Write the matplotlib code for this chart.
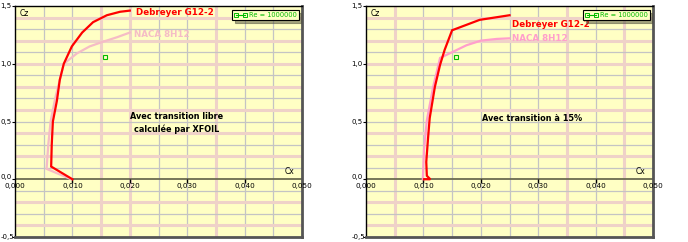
import matplotlib
matplotlib.use("Agg")
import matplotlib.pyplot as plt
from matplotlib.lines import Line2D
import matplotlib.transforms as mtransforms

# ---------------- data ----------------
x_ticks = [0.000, 0.010, 0.020, 0.030, 0.040, 0.050]
x_tick_labels = ["0,000", "0,010", "0,020", "0,030", "0,040", "0,050"]
y_ticks = [-0.5, 0.0, 0.5, 1.0, 1.5]
y_tick_labels = ["-0,5", "0,0", "0,5", "1,0", "1,5"]

# left panel: free transition (XFOIL)
left_deb_cx = [0.0100, 0.0063, 0.0064, 0.0066, 0.0073, 0.0078, 0.0085, 0.0099, 0.0117, 0.0136, 0.0160, 0.0183, 0.0200]
left_deb_cz = [0.00, 0.11, 0.30, 0.50, 0.68, 0.86, 1.00, 1.15, 1.27, 1.36, 1.42, 1.45, 1.46]
left_naca_cx = [0.0098, 0.0055, 0.0058, 0.0062, 0.0070, 0.0078, 0.0085, 0.0108, 0.0130, 0.0153, 0.0178, 0.0200]
left_naca_cz = [0.00, 0.09, 0.30, 0.50, 0.70, 0.86, 1.00, 1.09, 1.15, 1.19, 1.23, 1.27]

# right panel: transition at 15%
right_deb_cx = [0.0101, 0.0112, 0.0106, 0.0105, 0.0108, 0.0111, 0.0120, 0.0129, 0.0137, 0.0150, 0.0198, 0.0250]
right_deb_cz = [0.00, 0.00, 0.03, 0.15, 0.35, 0.53, 0.80, 0.99, 1.12, 1.29, 1.38, 1.42]
right_naca_cx = [0.0099, 0.0101, 0.0106, 0.0117, 0.0129, 0.0150, 0.0175, 0.0200, 0.0228, 0.0250]
right_naca_cz = [0.00, 0.25, 0.51, 0.80, 1.05, 1.10, 1.16, 1.20, 1.215, 1.22]

re_point_cx = [0.0156]
re_point_cz = [1.06]

series_names = ["Debreyer G12-2", "NACA 8H12"]
legend_label = "Re = 1000000"
notes = ["Avec transition libre\ncalculée par XFOIL", "Avec transition à 15%"]

# ---------------- style ----------------
BG = "#ffffc4"
PINK_GRID = "#efd2c8"
GRAY_GRID = "#c4c4c4"
RED = "#ff0000"
GREEN = "#00bb00"

fig = plt.figure(figsize=(6.88, 2.42), dpi=100)
fig.patch.set_facecolor("white")

W, H = 688.0, 242.0
def axes_at(x0, x1, y0, y1):
    return fig.add_axes([x0 / W, 1 - y1 / H, (x1 - x0) / W, (y1 - y0) / H])

axL = axes_at(15, 302, 6, 237)
axR = axes_at(366, 653, 6, 237)

panels = [
    (axL, left_deb_cx, left_deb_cz, left_naca_cx, left_naca_cz, "#f5bcc6",
     [0.015, 0.020, 0.035], notes[0], (0.0282, 0.49), (0.0210, 1.445), (0.0208, 1.25)),
    (axR, right_deb_cx, right_deb_cz, right_naca_cx, right_naca_cz, "#ff9fcc",
     [0.005, 0.035, 0.045], notes[1], (0.0290, 0.53), (0.0254, 1.34), (0.0254, 1.215)),
]

for ax, dcx, dcz, ncx, ncz, pink, pink_x, note, note_xy, dlab, nlab in panels:
    ax.set_facecolor(BG)
    ax.set_xlim(0, 0.05)
    ax.set_ylim(-0.5, 1.5)

    # grid
    for i in range(1, 10):
        xv = i * 0.005
        if any(abs(xv - p) < 1e-9 for p in pink_x):
            ax.axvline(xv, color=PINK_GRID, lw=2.2, zorder=0)
        else:
            ax.axvline(xv, color=GRAY_GRID, lw=0.9, zorder=0)
    for i in range(-4, 15):
        yv = i * 0.1
        if i == 0:
            continue
        if i % 2 == 0:
            ax.axhline(yv, color=PINK_GRID, lw=2.2, zorder=0)
        else:
            ax.axhline(yv, color=GRAY_GRID, lw=0.9, zorder=0)

    # zero axis
    ax.axhline(0, color="#6b6b50", lw=1.3, zorder=1)
    ax.plot(x_ticks[1:-1], [0] * (len(x_ticks) - 2), linestyle="none",
            marker=3, ms=3, mew=1, color="black", zorder=2, clip_on=False)
    for xv, lab in zip(x_ticks, x_tick_labels):
        ax.text(xv, -0.03, lab, ha="center", va="top", fontsize=5.2,
                color="black", zorder=3)
    ax.text(0.0478, 0.025, "Cx", ha="center", va="bottom", fontsize=5.5)
    ax.text(0.0008, 1.47, "Cz", ha="left", va="top", fontsize=5.5)

    # curves
    ax.plot(ncx, ncz, color=pink, lw=1.6, zorder=4, solid_joinstyle="miter")
    ax.plot(dcx, dcz, color=RED, lw=1.6, zorder=5, solid_joinstyle="miter")
    ax.plot(re_point_cx, re_point_cz, linestyle="none", marker="s", ms=3,
            mfc="none", mec=GREEN, mew=0.8, zorder=6)

    ax.text(dlab[0], dlab[1], series_names[0], color=RED, fontsize=6.3,
            fontweight="bold", ha="left", va="center", zorder=6)
    ax.text(nlab[0], nlab[1], series_names[1], color=pink, fontsize=6.3,
            fontweight="bold", ha="left", va="center", zorder=6)

    ax.text(note_xy[0], note_xy[1], note, ha="center", va="center",
            fontsize=5.9, fontweight="bold", color="black", linespacing=1.45,
            zorder=6)

    # legend
    h = Line2D([0], [0], color=GREEN, lw=0.8, marker="s", ms=2.5,
               mfc="none", mec=GREEN, mew=0.7)
    leg = ax.legend([h], [legend_label], loc="upper right",
                    bbox_to_anchor=(0.995, 0.99), fontsize=4.8,
                    handlelength=2.0, handletextpad=0.2, numpoints=2,
                    borderpad=0.3, fancybox=False, shadow=True,
                    framealpha=1, borderaxespad=0.3)
    leg.set_zorder(7)
    leg.get_frame().set_facecolor(BG)
    leg.get_frame().set_edgecolor("black")
    leg.get_frame().set_linewidth(0.8)
    for t in leg.get_texts():
        t.set_color(GREEN)

    # frame
    ax.spines["left"].set_color("black")
    ax.spines["top"].set_color("black")
    ax.spines["left"].set_linewidth(1.0)
    ax.spines["top"].set_linewidth(1.0)
    ax.spines["right"].set_color("#555555")
    ax.spines["bottom"].set_color("#555555")
    ax.spines["right"].set_linewidth(2.0)
    ax.spines["bottom"].set_linewidth(2.0)

    ax.set_xticks([])
    ax.set_yticks(y_ticks)
    ax.set_yticklabels(y_tick_labels)
    ax.tick_params(axis="y", length=2, width=0.8, pad=0.5, labelsize=5.0,
                   direction="out")
    # keep the lowest label inside the picture
    lowest = ax.get_yticklabels()[0]
    lowest.set_verticalalignment("bottom")
    lowest.set_transform(lowest.get_transform() +
                         mtransforms.ScaledTranslation(2.5 / 100, -3.0 / 100, fig.dpi_scale_trans))
    zero_lab = ax.get_yticklabels()[1]
    zero_lab.set_transform(zero_lab.get_transform() +
                           mtransforms.ScaledTranslation(0, 2.5 / 100, fig.dpi_scale_trans))

fig.savefig("out.png", dpi=100, facecolor="white")
